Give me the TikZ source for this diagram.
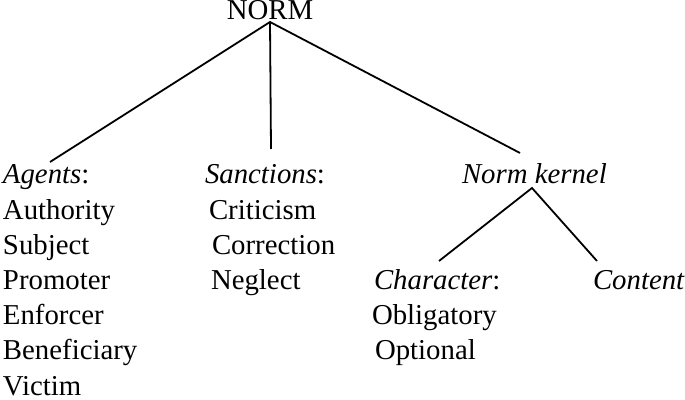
\documentclass[tikz,border=0pt]{standalone}
\usepackage{fontspec}
\setmainfont{Liberation Serif}

\begin{document}
\begin{tikzpicture}[x=0.5pt,y=-0.5pt,
	lbl/.style={anchor=base west,inner sep=0,outer sep=0,font=\fontsize{14.4}{17}\selectfont},
	branch/.style={line width=0.9pt}]
	\useasboundingbox (0,0) rectangle (685,400);
	% root
	\node[lbl,anchor=base] (norm) at (270,20) {NORM};
	\coordinate (norm foot) at (270,22);
	% agents
	\node[lbl] (agents) at (3,184) {\textit{Agents}:};
	\node[lbl] (authority) at (3,220) {Authority};
	\node[lbl] (subject) at (3,255) {Subject};
	\node[lbl] (promoter) at (3,290) {Promoter};
	\node[lbl] (enforcer) at (3,325) {Enforcer};
	\node[lbl] (beneficiary) at (3,360) {Beneficiary};
	\node[lbl] (victim) at (3,395) {Victim};
	% sanctions
	\node[lbl] (sanctions) at (205,184) {\textit{Sanctions}:};
	\node[lbl] (criticism) at (209,220) {Criticism};
	\node[lbl] (correction) at (212,255) {Correction};
	\node[lbl] (neglect) at (211,290) {Neglect};
	% norm kernel
	\node[lbl] (kernel) at (462,184) {\textit{Norm kernel}};
	\node[lbl] (character) at (374,290) {\textit{Character}:};
	\node[lbl] (obligatory) at (372,325) {Obligatory};
	\node[lbl] (optional) at (375,360) {Optional};
	\node[lbl] (content) at (593,290) {\textit{Content}};
	\coordinate (agents tip) at (50,162);
	\coordinate (sanctions tip) at (271,149);
	\coordinate (kernel tip) at (520,153);
	\coordinate (kernel foot) at (532,188);
	\coordinate (character tip) at (439,261);
	\coordinate (content tip) at (597,261);
	\draw[branch] (agents tip) -- (norm foot) -- (kernel tip);
	\draw[branch] (norm foot) -- (sanctions tip);
	\draw[branch] (character tip) -- (kernel foot) -- (content tip);
\end{tikzpicture}
\end{document}
